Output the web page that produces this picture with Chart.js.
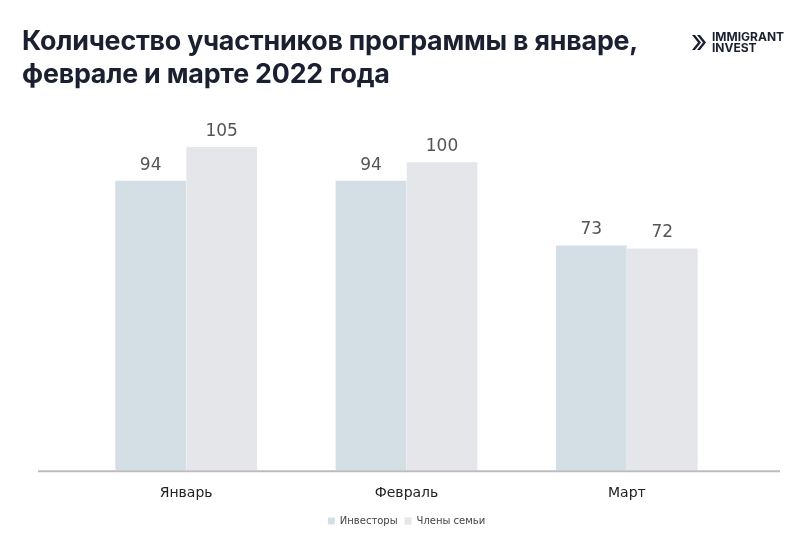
<!DOCTYPE html>
<html>
<head>
<meta charset="utf-8">
<script src="https://cdn.jsdelivr.net/npm/chart.js@4"></script>
<style>
  body { margin: 0; background: #fff; }
  #wrap { position: relative; width: 801px; height: 552px; }
  #title {
    position: absolute; left: 22px; top: 24px;
    font-family: "Inter", "Noto Sans", sans-serif; font-weight: 700;
    font-size: 26.8px; line-height: 33px; color: #1b2030; letter-spacing: -0.2px;
  }
  #logo {
    position: absolute; left: 692px; top: 32px;
    font-family: "Inter", sans-serif; font-weight: 700; font-size: 12px;
    line-height: 10.5px; color: #1b2030; display: flex; align-items: center;
  }
  #logo svg { margin-right: 6px; }
  canvas { position: absolute; left: 0; top: 0; }
</style>
</head>
<body>
<div id="wrap">
  <canvas id="chart" width="801" height="552"></canvas>
  <div id="title">Количество участников программы в январе,<br>феврале и марте 2022 года</div>
  <div id="logo">
    <svg width="14" height="15" viewBox="0 0 14 15"><path d="M0 0 L6 7.5 L0 15 L3 15 L9 7.5 L3 0 Z M5 0 L11 7.5 L5 15 L8 15 L14 7.5 L8 0 Z" fill="#1b2030"/></svg>
    <div>IMMIGRANT<br>INVEST</div>
  </div>
</div>
<script>
var months = ["Январь", "Февраль", "Март"];
var investors = [94, 94, 73];
var family = [105, 100, 72];
var seriesNames = ["Инвесторы", "Члены семьи"];

// value labels above the bars
var barLabels = {
  id: 'barLabels',
  afterDatasetsDraw: function (chart) {
    var ctx = chart.ctx;
    ctx.save();
    ctx.font = '17px "DejaVu Sans", sans-serif';
    ctx.fillStyle = '#555';
    ctx.textAlign = 'center';
    ctx.textBaseline = 'bottom';
    chart.data.datasets.forEach(function (ds, i) {
      chart.getDatasetMeta(i).data.forEach(function (bar, j) {
        ctx.fillText(ds.data[j], bar.x, bar.y - 7);
      });
    });
    ctx.restore();
  }
};

// long baseline under the bars
var baseLine = {
  id: 'baseLine',
  afterDatasetsDraw: function (chart) {
    var ctx = chart.ctx;
    var y = chart.scales.y.getPixelForValue(0);
    ctx.save();
    ctx.strokeStyle = '#bcbcbc';
    ctx.lineWidth = 2;
    ctx.beginPath();
    ctx.moveTo(38, y + 1);
    ctx.lineTo(780, y + 1);
    ctx.stroke();
    ctx.restore();
  }
};

new Chart(document.getElementById('chart'), {
  type: 'bar',
  data: {
    labels: months,
    datasets: [
      { label: seriesNames[0], data: investors, backgroundColor: '#d4dfe5' },
      { label: seriesNames[1], data: family, backgroundColor: '#e5e6ea' }
    ]
  },
  options: {
    responsive: false,
    animation: false,
    layout: { padding: { left: 76, right: 64, top: 110, bottom: 16 } },
    datasets: { bar: { categoryPercentage: 0.645, barPercentage: 0.995 } },
    scales: {
      x: {
        grid: { display: false },
        border: { display: false },
        ticks: { color: '#222', font: { family: 'DejaVu Sans', size: 14 }, padding: 7 }
      },
      y: {
        display: false,
        min: 0,
        max: 117
      }
    },
    plugins: {
      legend: {
        position: 'bottom',
        labels: {
          boxWidth: 7, boxHeight: 7, padding: 7,
          color: '#444', font: { family: 'DejaVu Sans', size: 10 }
        }
      },
      tooltip: { enabled: false }
    }
  },
  plugins: [barLabels, baseLine]
});
</script>
</body>
</html>
